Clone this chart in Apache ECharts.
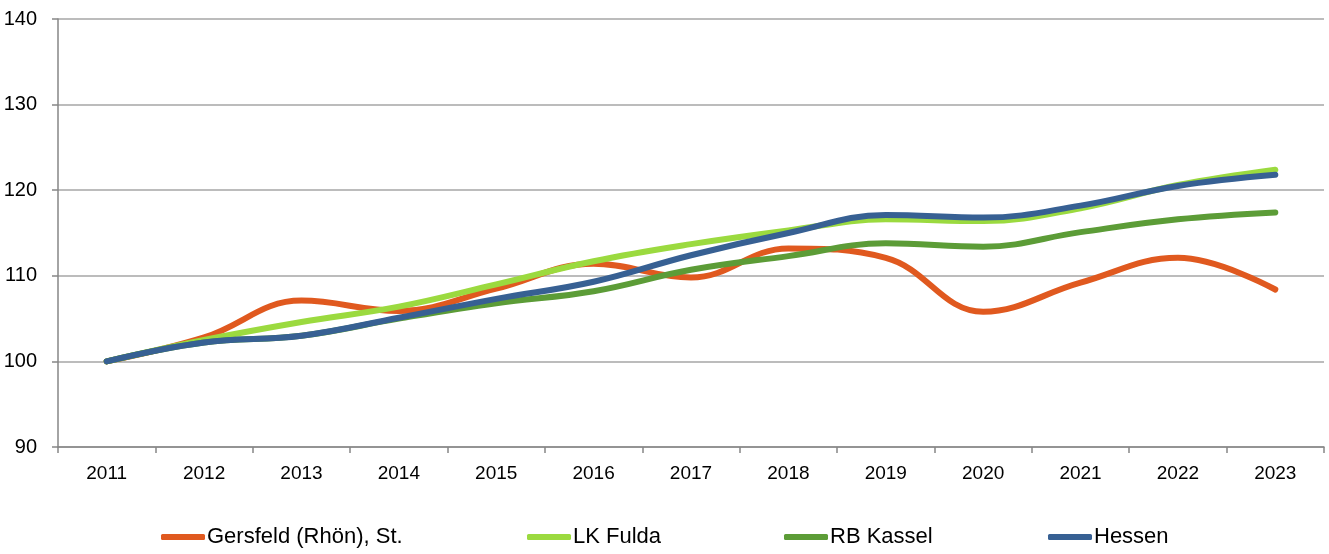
<!DOCTYPE html>
<html>
<head>
<meta charset="utf-8">
<script src="https://cdn.jsdelivr.net/npm/echarts@6/dist/echarts.min.js"></script>
<style>
  html, body { margin: 0; padding: 0; background: #fff; }
  #chart { width: 1329px; height: 554px; }
</style>
</head>
<body>
<div id="chart"></div>
<script>
// Jahre
var years = ['2011', '2012', '2013', '2014', '2015', '2016', '2017', '2018', '2019', '2020', '2021', '2022', '2023'];

// Index 2011 = 100
var gersfeld = [100, 102.8, 107.1, 105.9, 108.5, 111.4, 109.8, 113.2, 112.1, 105.8, 109.2, 112.1, 108.4];
var lkFulda  = [100, 102.5, 104.6, 106.4, 109.0, 111.7, 113.7, 115.3, 116.6, 116.4, 117.9, 120.6, 122.4];
var rbKassel = [100, 102.2, 103.0, 105.0, 106.8, 108.2, 110.7, 112.3, 113.8, 113.4, 115.1, 116.6, 117.4];
var hessen   = [100, 102.2, 103.0, 105.1, 107.3, 109.3, 112.4, 115.0, 117.1, 116.8, 118.2, 120.5, 121.8];

var yTicks = [90, 100, 110, 120, 130, 140];

var names = ['Gersfeld (Rhön), St.', 'LK Fulda', 'RB Kassel', 'Hessen'];
var colors = ['#E0591F', '#9BDA3F', '#5C9C37', '#376093'];
var values = [gersfeld, lkFulda, rbKassel, hessen];
var legendLeft = [161, 527, 784, 1048];

var font = '"Liberation Sans", Arial, sans-serif';

var chart = echarts.init(document.getElementById('chart'));

var option = {
  animation: false,
  color: colors,
  grid: { left: 58, right: 5, top: 19, bottom: 107, containLabel: false },
  legend: names.map(function (n, i) {
    return {
      data: [n],
      left: legendLeft[i],
      top: 526,
      padding: 0,
      icon: 'roundRect',
      itemWidth: 44,
      itemHeight: 6,
      itemGap: 0,
      textStyle: { fontFamily: font, fontSize: 22, color: '#000', padding: [0, 0, 0, -3] }
    };
  }),
  xAxis: {
    type: 'category',
    data: years,
    boundaryGap: true,
    axisLine: { lineStyle: { color: '#868686', width: 1.5 } },
    axisTick: { show: true, length: 6, lineStyle: { color: '#868686', width: 1.5 } },
    axisLabel: { fontFamily: font, fontSize: 19, color: '#000', margin: 17 },
    splitLine: { show: false }
  },
  yAxis: {
    type: 'value',
    min: yTicks[0],
    max: yTicks[yTicks.length - 1],
    interval: 10,
    axisLine: { show: true, lineStyle: { color: '#868686', width: 1.5 } },
    axisTick: { show: true, length: 6, lineStyle: { color: '#868686', width: 1.5 } },
    axisLabel: { fontFamily: font, fontSize: 20, color: '#000', margin: 21 },
    splitLine: { show: true, lineStyle: { color: '#A6A6A6', width: 1.5 } }
  },
  series: names.map(function (n, i) {
    return {
      name: n,
      type: 'line',
      data: values[i],
      smooth: 0.4,
      showSymbol: false,
      symbol: 'none',
      lineStyle: { width: 6, color: colors[i], cap: 'round', join: 'round' },
      itemStyle: { color: colors[i] }
    };
  })
};

chart.setOption(option);
</script>
</body>
</html>
